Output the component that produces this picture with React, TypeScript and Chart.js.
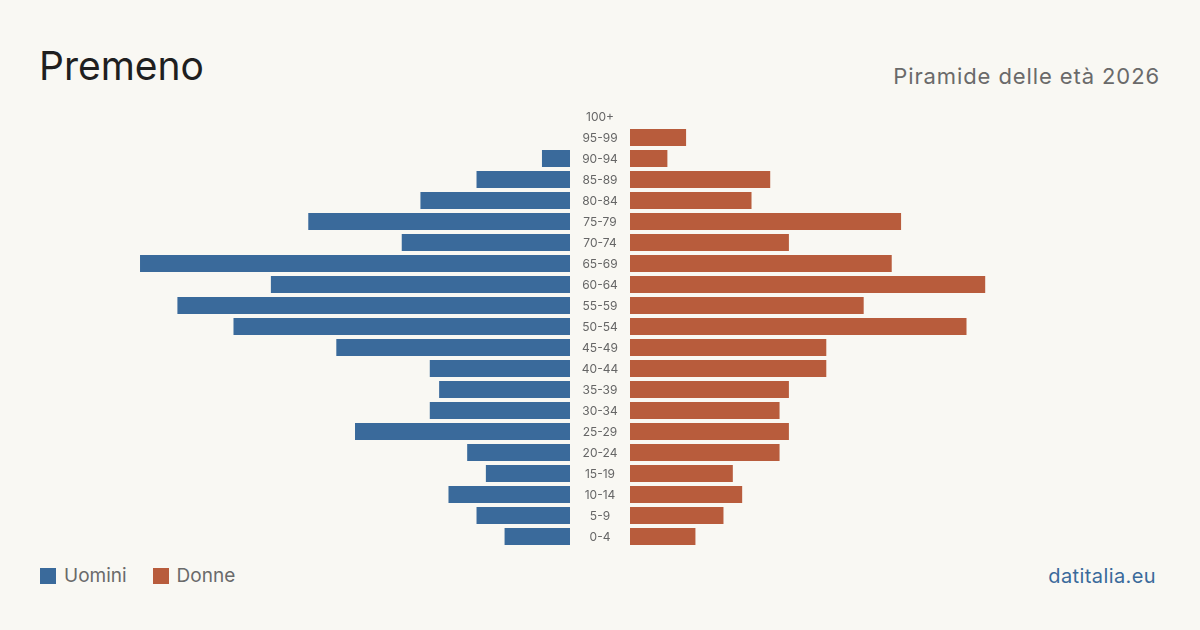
import React, { useEffect, useRef } from "react";
import { Chart, registerables } from "chart.js";

Chart.register(...registerables);

const ageGroups = ["100+", "95-99", "90-94", "85-89", "80-84", "75-79", "70-74", "65-69", "60-64", "55-59", "50-54", "45-49", "40-44", "35-39", "30-34", "25-29", "20-24", "15-19", "10-14", "5-9", "0-4"];
const men = [0, 0, 3, 10, 16, 28, 18, 46, 32, 42, 36, 25, 15, 14, 15, 23, 11, 9, 13, 10, 7];
const women = [0, 6, 4, 15, 13, 29, 17, 28, 38, 25, 36, 21, 21, 17, 16, 17, 16, 11, 12, 10, 7];
const axisMax = 56.7;

const BLUE = "#3a6a9b";
const ORANGE = "#b85c3c";
const BG = "#f9f8f3";
const FONT = "Inter, 'Liberation Sans', sans-serif";

export default function App() {
  const leftRef = useRef<HTMLCanvasElement>(null);
  const rightRef = useRef<HTMLCanvasElement>(null);

  useEffect(() => {
    document.body.style.margin = "0";
    const common = (reverse: boolean) => ({
      responsive: false,
      animation: false as const,
      indexAxis: "y" as const,
      plugins: { legend: { display: false }, tooltip: { enabled: false } },
      scales: {
        x: { display: false, min: 0, max: axisMax, reverse },
        y: { display: false },
      },
    });
    const left = new Chart(leftRef.current!, {
      type: "bar",
      data: {
        labels: ageGroups,
        datasets: [{ label: "Uomini", data: men, backgroundColor: BLUE, barPercentage: 0.81, categoryPercentage: 1 }],
      },
      options: { ...common(true), layout: { padding: 0 } },
    });
    const labelPlugin = {
      id: "centerLabels",
      afterDraw(chart: any) {
        const ctx = chart.ctx;
        const ys = chart.scales.y;
        ctx.save();
        ctx.font = `12px ${FONT}`;
        ctx.fillStyle = "#666";
        ctx.textAlign = "center";
        ctx.textBaseline = "middle";
        ageGroups.forEach((lab, i) => {
          ctx.fillText(lab, chart.chartArea.left - 30, ys.getPixelForTick(i) + 1);
        });
        ctx.restore();
      },
    };
    const right = new Chart(rightRef.current!, {
      type: "bar",
      data: {
        labels: ageGroups,
        datasets: [{ label: "Donne", data: women, backgroundColor: ORANGE, barPercentage: 0.81, categoryPercentage: 1 }],
      },
      options: { ...common(false), layout: { padding: { left: 60, right: 0, top: 0, bottom: 0 } } },
      plugins: [labelPlugin],
    });
    return () => {
      left.destroy();
      right.destroy();
    };
  }, []);

  return (
    <div style={{ position: "absolute", left: 0, top: 0, width: 1200, height: 630, background: BG, fontFamily: FONT, overflow: "hidden" }}>
      <div style={{ position: "absolute", left: 39, top: 41, fontSize: 39, color: "#1f1f1f", lineHeight: "50px" }}>Premeno</div>
      <div style={{ position: "absolute", right: 40, top: 62, fontSize: 22, letterSpacing: "0.9px", color: "#6a6a6a", lineHeight: "28px" }}>Piramide delle età 2026</div>
      <canvas ref={leftRef} width={530} height={441} style={{ position: "absolute", left: 40, top: 106 }} />
      <canvas ref={rightRef} width={590} height={441} style={{ position: "absolute", left: 570, top: 106 }} />
      <div style={{ position: "absolute", left: 40, top: 564, display: "flex", alignItems: "center", fontSize: 19, color: "#6a6a6a", lineHeight: "24px" }}>
        <span style={{ width: 16, height: 16, background: BLUE, display: "inline-block", marginRight: 8 }} />
        <span>Uomini</span>
        <span style={{ width: 16, height: 16, background: ORANGE, display: "inline-block", marginLeft: 26, marginRight: 8 }} />
        <span>Donne</span>
      </div>
      <div style={{ position: "absolute", right: 44, top: 563, fontSize: 20, letterSpacing: "0.4px", color: BLUE, lineHeight: "26px" }}>datitalia.eu</div>
    </div>
  );
}
